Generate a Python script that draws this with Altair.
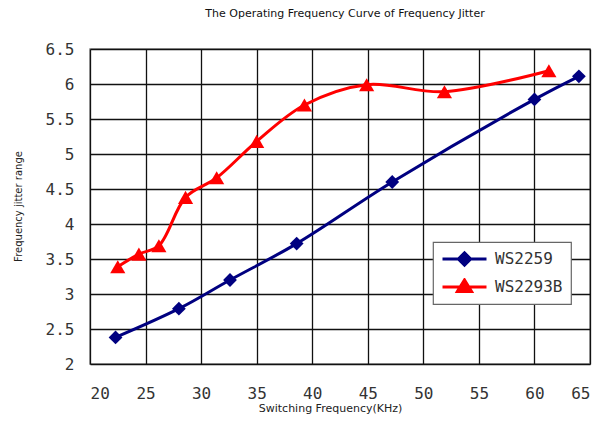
import altair as alt
import pandas as pd

title_text = "The Operating Frequency Curve of Frequency Jitter"
x_title = "Switching Frequency(KHz)"
y_title = "Frequency jitter range"

series_names = ["WS2259", "WS2293B"]
ws2259_freq = [22.3, 28.0, 32.6, 38.6, 47.2, 60.0, 64.0]
ws2259_jitter = [2.38, 2.79, 3.20, 3.72, 4.60, 5.78, 6.11]
ws2293b_freq = [22.5, 24.4, 26.2, 28.6, 31.4, 35.0, 39.3, 44.9, 51.9, 61.3]
ws2293b_jitter = [3.39, 3.57, 3.69, 4.38, 4.66, 5.18, 5.70, 5.99, 5.89, 6.19]

x_ticks = [20, 25, 30, 35, 40, 45, 50, 55, 60, 65]
y_ticks = [2, 2.5, 3, 3.5, 4, 4.5, 5, 5.5, 6, 6.5]
colors = ["#000080", "#ff0000"]
legend_paths = [
    "M-1,0L1,0M-0.28,0L0,-0.28L0.28,0L0,0.28Z",
    "M-1,0L1,0M-0.32,0.2L0,-0.32L0.32,0.2Z",
]

rows = []
for f, j in zip(ws2259_freq, ws2259_jitter):
    rows.append({"freq": f, "jitter": j, "series": series_names[0]})
for f, j in zip(ws2293b_freq, ws2293b_jitter):
    rows.append({"freq": f, "jitter": j, "series": series_names[1]})
df = pd.DataFrame(rows)

mono = "DejaVu Sans Mono"
sans = "DejaVu Sans"

x_enc = alt.X("freq:Q", scale=alt.Scale(domain=[20, 65], nice=False, zero=False),
              axis=alt.Axis(values=x_ticks, format="~g", title=x_title, titleX=240, titleY=44,
                            titleAlign="center", titleBaseline="middle",
                            titleFont=sans, titleFontSize=11, titleFontWeight="normal",
                            titleColor="#222", labelPadding=21))
y_enc = alt.Y("jitter:Q", scale=alt.Scale(domain=[2, 6.5], nice=False, zero=False),
              axis=alt.Axis(values=y_ticks, format="~g", title=y_title, titleX=-72, titleY=157,
                            titleAngle=270, titleAlign="center", titleBaseline="middle",
                            titleFont=sans, titleFontSize=10, titleFontWeight="normal",
                            titleColor="#222", labelPadding=16))

# colour scale for the drawn series (domain taken from the data)
color_scale = alt.Scale(range=colors)

lines = alt.Chart(df).mark_line(strokeWidth=3, interpolate="catmull-rom").encode(
    x=x_enc, y=y_enc,
    color=alt.Color("series:N", scale=color_scale, legend=None),
)

points = alt.Chart(df).mark_point(filled=True, opacity=1).encode(
    x=x_enc, y=y_enc,
    color=alt.Color("series:N", scale=color_scale, legend=None),
    shape=alt.condition(alt.datum.series == series_names[0], alt.value("diamond"), alt.value("triangle-up")),
    size=alt.condition(alt.datum.series == series_names[0], alt.value(190), alt.value(230)),
)

leg = alt.Legend(
    title=None, orient="none", legendX=343, legendY=193,
    padding=8, strokeColor="#666", fillColor="white",
    labelFont=mono, labelFontSize=16, labelColor="#333", labelOffset=7,
    symbolSize=1936, symbolStrokeWidth=3, clipHeight=18, rowPadding=10,
    cornerRadius=0, symbolOpacity=1,
)

legend_layer = alt.Chart(df).transform_filter(
    alt.datum.freq < 0
).mark_point(filled=True).encode(
    x=x_enc, y=y_enc,
    fill=alt.Fill("series:N", scale=alt.Scale(domain=series_names, range=colors), legend=leg),
    stroke=alt.Stroke("series:N", scale=alt.Scale(domain=series_names, range=colors), legend=leg),
    shape=alt.Shape("series:N", scale=alt.Scale(domain=series_names, range=legend_paths), legend=leg),
)

chart = alt.layer(lines, points, legend_layer).properties(
    width=500, height=315,
    background="white",
    autosize=alt.AutoSizeParams(type="none"),
    padding={"left": 82, "top": 41, "right": 8, "bottom": 51},
    title=alt.Title(title_text, font=sans, fontSize=11, fontWeight="normal",
                    color="#111", anchor="middle", frame="group", offset=22, dx=5),
).configure_view(
    stroke="#888", strokeWidth=1.5
).configure_axis(
    grid=True, gridColor="#111", gridWidth=1.3, domain=False, ticks=False,
    labelFont=mono, labelFontSize=16, labelColor="#333",
).configure_legend(
    strokeWidth=1.2
)

chart.save("out.html", embed_options={"renderer": "svg", "actions": False})
